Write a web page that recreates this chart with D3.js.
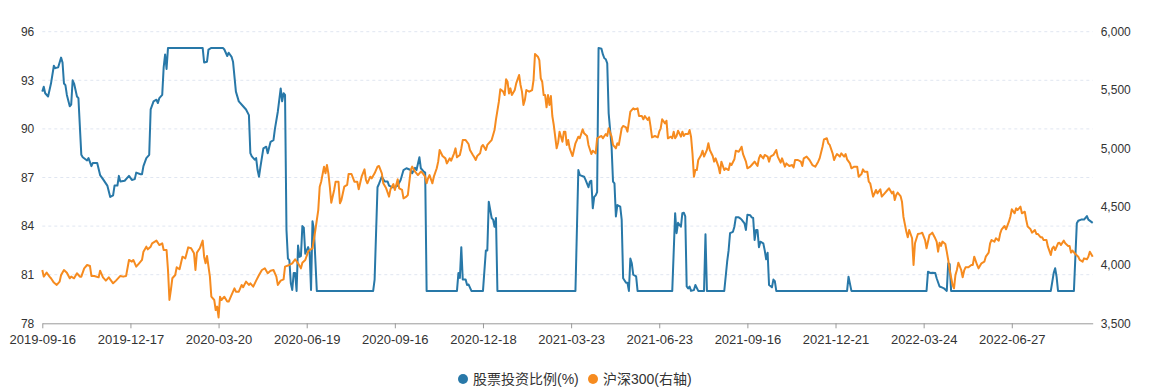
<html>
<head>
<meta charset="utf-8">
<script src="https://d3js.org/d3.v7.min.js"></script>
<style>
    body { margin: 0; background: #fff; }
    text { font-family: "Liberation Sans", "Noto Sans CJK SC", sans-serif; fill: #333; }
</style>
</head>
<body>
<svg width="1163" height="390"></svg>
<script>
// x axis: trading days, one label every 61 days
var tickLabels = ["2019-09-16", "2019-12-17", "2020-03-20", "2020-06-19", "2020-09-16", "2020-12-18",
    "2021-03-23", "2021-06-23", "2021-09-16", "2021-12-21", "2022-03-24", "2022-06-27"];
var tickStep = 61;
var lastDay = 727;

var leftTicks = [78, 81, 84, 87, 90, 93, 96];
var rightTicks = [3500, 4000, 4500, 5000, 5500, 6000];

var legendNames = ["股票投资比例(%)", "沪深300(右轴)"];

// [trading day index, stock ratio %]
var stockRatio = [[0,92.3],[1,92.6],[2,92.2],[4,92.0],[6,92.8],[8,93.9],[9,93.75],[11,93.8],[13,94.4],[14,94.1],
    [15,92.8],[16,92.7],[17,92.1],[19,91.4],[20,91.5],[21,93.0],[22,92.8],[24,92.0],[25,91.9],[27,88.4],
    [28,88.25],[31,88.05],[32,88.2],[34,87.7],[35,87.9],[38,87.9],[40,87.15],[42,86.9],[45,86.5],[47,85.8],
    [49,85.9],[50,86.5],[52,86.5],[53,87.1],[54,86.75],[57,86.8],[60,87.1],[62,86.85],[64,86.9],[65,87.3],
    [68,87.2],[69,87.2],[70,87.7],[72,88.2],[74,88.4],[75,91.2],[77,91.7],[79,91.8],[80,91.6],[81,91.9],
    [83,92.1],[84,93.8],[85,94.6],[86,93.7],[87,95.0],[111,95.0],[112,94.1],[114,94.15],[115,94.9],[117,95.0],
    [125,95.0],[126,94.9],[128,94.5],[129,94.7],[131,94.45],[132,94.15],[134,92.3],[136,91.7],[139,91.4],[141,91.2],
    [143,90.85],[144,88.5],[145,88.3],[147,88.1],[148,88.2],[149,87.46],[150,87.05],[151,87.67],[153,88.8],[155,88.9],
    [156,88.5],[158,89.2],[160,89.3],[161,90.0],[163,91.06],[165,92.5],[166,91.7],[167,92.2],[168,92.1],[169,83.76],
    [170,82.0],[171,81.9],[172,80.47],[173,80.06],[174,81.1],[175,81.1],[176,80.0],[177,82.8],[178,82.1],[179,82.15],
    [180,84.0],[181,83.9],[182,82.3],[184,82.7],[185,82.4],[186,80.06],[187,84.3],[188,83.76],[190,80.0],[229,80.0],
    [230,80.7],[232,86.4],[233,86.6],[235,87.05],[237,86.75],[239,86.75],[240,86.5],[242,86.4],[244,86.4],[246,86.5],
    [248,86.85],[250,87.46],[252,87.57],[255,87.46],[256,87.26],[258,87.6],[259,87.46],[261,88.25],[262,87.57],[264,87.36],
    [265,87.3],[266,80.0],[287,80.0],[288,81.1],[289,80.8],[290,82.7],[291,80.7],[293,80.7],[294,80.36],[295,80.4],
    [297,80.0],[305,80.0],[307,82.5],[308,82.5],[309,85.5],[311,84.5],[312,84.4],[313,83.96],[314,84.5],[315,80.0],
    [369,80.0],[371,87.46],[372,87.15],[375,87.05],[376,86.85],[378,86.4],[379,86.75],[380,86.8],[381,85.1],[382,85.8],
    [383,85.9],[384,86.1],[385,95.0],[387,94.95],[388,94.6],[389,94.36],[390,94.3],[391,94.05],[392,90.96],[394,88.9],
    [395,86.75],[396,86.64],[397,84.6],[398,85.3],[400,85.2],[401,84.4],[402,80.78],[404,80.5],[405,80.5],[406,80.0],
    [407,82.0],[408,81.7],[409,81.0],[411,80.9],[412,80.0],[436,80.0],[438,84.8],[439,83.56],[440,84.2],[442,83.96],
    [443,84.8],[444,84.83],[445,84.6],[446,80.27],[447,80.15],[448,80.27],[449,80.0],[451,80.05],[452,80.36],[454,80.0],
    [458,80.0],[459,83.5],[460,80.0],[472,80.0],[474,81.8],[475,82.5],[476,83.56],[478,83.65],[479,83.96],[480,84.54],
    [482,84.54],[483,84.48],[484,84.4],[486,84.17],[487,83.76],[488,84.7],[490,84.67],[491,84.54],[492,84.5],[493,83.14],
    [494,83.76],[495,83.76],[496,82.7],[497,83.04],[499,82.94],[500,82.5],[501,81.95],[502,82.36],[503,80.36],[505,80.22],
    [506,80.7],[507,80.6],[508,80.0],[557,80.0],[558,80.88],[560,80.0],[612,80.0],[613,81.18],[615,81.1],[616,81.12],
    [618,81.1],[619,80.78],[621,80.27],[623,80.2],[624,80.16],[626,80.0],[627,81.7],[628,81.65],[629,80.0],[698,80.0],
    [700,81.1],[701,81.4],[702,80.88],[703,80.0],[714,80.0],[716,84.17],[717,84.33],[719,84.4],[721,84.4],[723,84.62],
    [724,84.4],[727,84.2]];

// [trading day index, CSI 300 close]
var csi300 = [[0,3957],[1,3900],[3,3934],[5,3900],[6,3886],[8,3849],[10,3829],[12,3857],[13,3914],[15,3957],
    [17,3934],[19,3886],[20,3900],[22,3886],[24,3929],[26,3900],[27,3900],[29,3971],[31,4000],[33,3991],
    [34,3906],[36,3906],[39,3894],[40,3951],[42,3894],[44,3866],[46,3894],[47,3877],[49,3843],[51,3866],
    [54,3906],[56,3900],[58,3906],[60,4043],[62,4028],[63,4043],[65,3986],[67,4014],[69,4043],[70,4114],
    [72,4157],[73,4134],[75,4157],[76,4186],[79,4209],[81,4171],[83,4186],[84,4128],[86,4128],[87,3957],
    [88,3700],[89,3786],[90,3886],[92,3914],[93,3980],[95,3963],[97,4071],[99,4057],[101,4151],[103,4143],
    [105,4100],[106,3957],[107,4106],[109,4143],[111,4209],[112,4071],[113,4014],[114,4077],[116,3900],[117,3728],
    [119,3700],[120,3614],[121,3643],[122,3550],[123,3728],[124,3700],[126,3728],[128,3686],[129,3686],[131,3743],
    [133,3800],[134,3771],[136,3771],[138,3829],[139,3809],[141,3857],[143,3829],[144,3843],[146,3814],[148,3866],
    [150,3914],[152,3957],[154,3971],[156,3929],[158,3951],[160,3957],[162,3900],[163,3829],[165,3866],[167,3877],
    [168,3986],[171,4000],[173,4014],[175,4049],[177,4014],[179,3971],[180,4020],[182,4043],[184,4114],[185,4128],
    [187,4143],[189,4300],[191,4471],[192,4671],[193,4714],[195,4843],[196,4786],[197,4857],[198,4786],[199,4671],
    [200,4534],[202,4643],[203,4714],[205,4714],[206,4529],[207,4557],[209,4671],[211,4686],[212,4780],[214,4780],
    [216,4714],[218,4714],[219,4649],[221,4757],[223,4820],[224,4729],[225,4700],[227,4757],[228,4743],[230,4786],
    [232,4843],[233,4849],[235,4786],[236,4700],[238,4657],[240,4586],[241,4650],[243,4694],[244,4643],[246,4734],
    [247,4657],[249,4643],[250,4571],[252,4586],[253,4600],[255,4814],[256,4843],[258,4800],[260,4771],[262,4800],
    [263,4791],[265,4757],[266,4700],[267,4743],[268,4771],[270,4700],[271,4757],[273,4829],[274,4886],[275,4986],
    [277,4934],[279,4914],[280,4871],[282,4914],[283,4894],[285,4957],[286,5000],[287,4923],[289,4943],[290,4999],
    [291,5071],[293,5071],[295,5037],[296,4986],[298,4943],[299,4923],[300,4900],[301,4934],[303,4957],[304,5014],
    [305,5029],[307,4986],[308,5029],[310,5057],[311,5071],[313,5157],[314,5249],[316,5400],[317,5506],[319,5486],
    [320,5457],[321,5592],[322,5571],[323,5471],[324,5514],[325,5457],[327,5500],[328,5557],[330,5629],[331,5543],
    [332,5486],[333,5372],[334,5414],[335,5500],[337,5486],[339,5500],[340,5586],[341,5809],[343,5786],[344,5757],
    [345,5600],[346,5571],[347,5457],[348,5457],[349,5352],[350,5457],[351,5372],[352,5449],[353,5277],[354,5200],
    [356,5000],[357,5049],[358,5143],[360,5057],[361,5143],[362,5143],[363,5029],[364,5071],[365,5000],[367,4934],
    [369,5043],[370,5071],[371,5100],[372,5086],[374,5163],[375,5129],[377,5106],[378,5029],[380,4951],[381,4980],
    [383,4957],[384,5086],[386,5100],[387,5106],[388,5086],[390,5123],[391,5106],[392,5172],[394,5100],[395,5029],
    [397,5000],[398,5043],[399,5029],[401,5172],[402,5192],[404,5180],[405,5143],[407,5314],[409,5343],[410,5334],
    [412,5343],[413,5277],[415,5277],[416,5249],[417,5277],[419,5243],[420,5266],[421,5186],[422,5094],[424,5106],
    [426,5094],[427,5143],[428,5172],[429,5249],[431,5214],[432,5237],[433,5086],[435,5100],[436,5086],[437,5143],
    [438,5086],[439,5106],[440,5151],[442,5100],[443,5143],[444,5106],[445,5123],[447,5123],[448,5157],[449,5100],
    [450,4957],[451,4757],[452,4814],[453,4814],[454,4900],[456,4943],[457,4980],[458,4929],[460,4986],[461,5043],
    [462,4986],[464,4934],[465,4886],[466,4914],[468,4843],[469,4786],[470,4886],[472,4814],[473,4829],[475,4814],
    [476,4871],[477,4857],[479,4906],[480,4980],[482,4971],[483,4991],[484,5014],[485,4950],[487,4886],[488,4829],
    [490,4843],[491,4857],[493,4886],[495,4849],[496,4914],[497,4943],[499,4914],[500,4943],[502,4929],[503,4886],
    [504,4929],[506,4943],[508,4986],[509,4929],[511,4877],[512,4914],[514,4843],[515,4871],[517,4849],[519,4857],
    [520,4837],[521,4900],[523,4900],[525,4886],[526,4849],[527,4914],[529,4929],[531,4900],[533,4857],[535,4843],
    [537,4886],[538,4914],[540,5014],[541,5077],[543,5086],[544,5043],[545,5029],[547,4957],[548,4900],[549,4929],
    [550,4951],[552,4929],[553,4957],[555,4929],[556,4951],[557,4906],[559,4871],[560,4829],[562,4843],[564,4843],
    [565,4757],[567,4780],[568,4820],[569,4800],[571,4800],[572,4714],[573,4700],[574,4643],[575,4586],[577,4643],
    [578,4614],[580,4649],[581,4586],[583,4614],[585,4643],[586,4657],[588,4614],[589,4630],[590,4557],[591,4600],
    [592,4620],[594,4591],[595,4543],[596,4414],[598,4286],[599,4237],[600,4300],[602,4229],[603,4000],[604,4186],
    [606,4266],[608,4271],[609,4277],[611,4214],[612,4143],[614,4257],[615,4266],[616,4277],[618,4229],[619,4200],
    [620,4114],[621,4191],[622,4163],[623,4200],[625,4180],[626,4114],[627,4043],[628,3957],[630,3829],[631,3800],
    [632,3914],[633,3957],[634,4020],[636,3957],[637,3894],[638,3951],[639,3980],[641,3980],[643,4000],[644,4000],
    [645,4071],[647,4000],[648,3971],[650,4014],[652,4028],[653,4071],[655,4106],[656,4186],[657,4214],[659,4200],
    [660,4229],[662,4209],[663,4271],[664,4306],[666,4334],[667,4306],[669,4371],[670,4414],[671,4477],[673,4443],
    [674,4486],[675,4471],[677,4500],[678,4443],[680,4457],[681,4386],[682,4329],[684,4306],[685,4277],[687,4300],
    [688,4266],[689,4266],[691,4237],[692,4237],[693,4214],[695,4214],[696,4157],[698,4086],[699,4143],[700,4157],
    [701,4128],[703,4186],[704,4191],[705,4171],[707,4209],[708,4186],[710,4163],[711,4163],[712,4106],[713,4123],
    [715,4094],[717,4071],[718,4043],[720,4028],[721,4057],[723,4049],[724,4071],[725,4114],[727,4071]];

var colors = ["#2878a8", "#f68b1f"];

var padLeft = 42.3, padRight = 1092.7, padTop = 31.7, padBottom = 323.3;

var svg = d3.select("svg");

var x = d3.scaleLinear().domain([0, lastDay]).range([padLeft, padRight]);
var yL = d3.scaleLinear().domain([78, 96]).range([padBottom, padTop]);
var yR = d3.scaleLinear().domain([3500, 6000]).range([padBottom, padTop]);

// grid lines
svg.append("g")
    .selectAll("line")
    .data(leftTicks.slice(1))
    .enter()
    .append("line")
    .attr("x1", padLeft)
    .attr("x2", padRight)
    .attr("y1", function(d) { return yL(d); })
    .attr("y2", function(d) { return yL(d); })
    .attr("stroke", "#e0e6f1")
    .attr("stroke-dasharray", "3,3");

// x axis
var xAxis = d3.axisBottom(x)
    .tickValues(tickLabels.map(function(d, i) { return i * tickStep; }))
    .tickFormat(function(d) { return tickLabels[d / tickStep]; })
    .tickSize(5)
    .tickSizeOuter(0)
    .tickPadding(6);

var gx = svg.append("g")
    .attr("transform", "translate(0," + padBottom + ")")
    .call(xAxis);
gx.selectAll("path, line").attr("stroke", "#9a9a9a");
gx.selectAll("text").attr("font-size", "13px").attr("fill", "#333")
    .style("font-family", "'Liberation Sans', sans-serif");

// left axis
var gl = svg.append("g")
    .attr("transform", "translate(" + padLeft + ",0)")
    .call(d3.axisLeft(yL).tickValues(leftTicks).tickSize(0).tickPadding(8));
gl.select(".domain").remove();
gl.selectAll("text").attr("font-size", "12px").attr("fill", "#333")
    .style("font-family", "'Liberation Sans', sans-serif");

// right axis
var gr = svg.append("g")
    .attr("transform", "translate(" + padRight + ",0)")
    .call(d3.axisRight(yR).tickValues(rightTicks).tickSize(0).tickPadding(8).tickFormat(d3.format(",")));
gr.select(".domain").remove();
gr.selectAll("text").attr("font-size", "12px").attr("fill", "#333")
    .style("font-family", "'Liberation Sans', sans-serif");

// lines
var lineL = d3.line()
    .x(function(d) { return x(d[0]); })
    .y(function(d) { return yL(d[1]); });
var lineR = d3.line()
    .x(function(d) { return x(d[0]); })
    .y(function(d) { return yR(d[1]); });

svg.append("path")
    .datum(stockRatio)
    .attr("d", lineL)
    .attr("fill", "none")
    .attr("stroke", colors[0])
    .attr("stroke-width", 2)
    .attr("stroke-linejoin", "round");

svg.append("path")
    .datum(csi300)
    .attr("d", lineR)
    .attr("fill", "none")
    .attr("stroke", colors[1])
    .attr("stroke-width", 2)
    .attr("stroke-linejoin", "round");

// legend
var legendX = [463, 593];
var legend = svg.append("g")
    .selectAll("g")
    .data(legendNames)
    .enter()
    .append("g")
    .attr("transform", function(d, i) { return "translate(" + legendX[i] + ",379)"; });

legend.append("circle")
    .attr("r", 5)
    .attr("fill", function(d, i) { return colors[i]; });

legend.append("text")
    .attr("x", 10)
    .attr("dy", "0.36em")
    .attr("font-size", "14px")
    .text(function(d) { return d; });
</script>
</body>
</html>
